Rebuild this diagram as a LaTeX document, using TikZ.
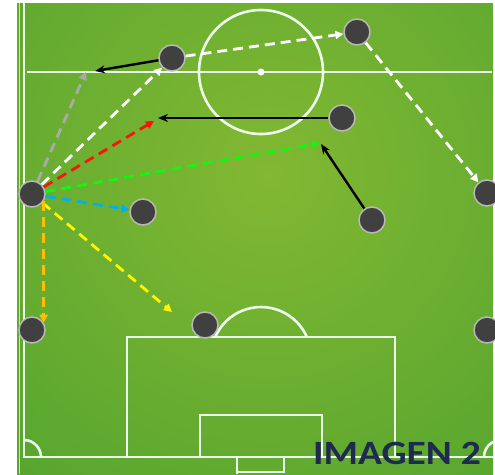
\documentclass[tikz,border=0pt]{standalone}
\usepackage{fontspec}
\newfontfamily\carlito{Carlito}
\usetikzlibrary{arrows.meta}
\definecolor{playerfill}{RGB}{64,64,64}
\definecolor{playeredge}{RGB}{185,185,185}
\definecolor{fieldin}{RGB}{130,184,50}
\definecolor{fieldout}{RGB}{60,154,46}
\definecolor{passgray}{RGB}{170,170,170}
\definecolor{passred}{RGB}{250,20,10}
\definecolor{passgreen}{RGB}{20,245,20}
\definecolor{passcyan}{RGB}{0,176,240}
\definecolor{passyellow}{RGB}{255,245,0}
\definecolor{passorange}{RGB}{255,190,0}
\definecolor{titlenavy}{RGB}{30,42,78}
\begin{document}
\begin{tikzpicture}[x=1pt,y=-1pt,
  fieldline/.style={white!92!green,line width=2.6},
  player/.style={circle,fill=playerfill,draw=playeredge,line width=1.5,minimum size=26,inner sep=0},
  pass/.style={line width=2.8,dash pattern=on 10 off 6,-{Triangle[length=8,width=8]}},
  run/.style={black,line width=2.4,-{Stealth[length=10,width=8]}}]
\useasboundingbox (0,0) rectangle (495,474);
\fill[white] (0,0) rectangle (495,474);
\begin{scope}
  \clip (17,3) rectangle (493,474);
  \shade[inner color=fieldin,outer color=fieldout] (268,175) circle (640);
  % field lines
  \draw[white!60!green,line width=1.5] (19.5,3) -- (19.5,474);
  \draw[fieldline] (24,3) -- (24,457) -- (493,457);
  \draw[fieldline] (27,72) -- (492,72);
  \draw[fieldline] (261,72) circle (62);
  \fill[white] (261,72) circle (3.5);
  \draw[fieldline] (127,457) -- (127,337) -- (395,337) -- (395,457);
  \draw[fieldline] (215.2,337) arc[start angle=-156.4,end angle=-23.6,radius=50];
  \draw[fieldline] (200,457) -- (200,415) -- (322,415) -- (322,457);
  \draw[fieldline] (237,474) -- (237,457) (237,472) -- (284,472) -- (284,457);
  \draw[fieldline] (24,440) arc[start angle=-90,end angle=0,radius=17];
  \draw[fieldline] (484,457) arc[start angle=180,end angle=270,radius=17];
\end{scope}
% players
\node[player] (p1) at (172,58) {};
\node[player] (p2) at (357,32) {};
\node[player] (p3) at (342,118) {};
\node[player] (p4) at (32,194) {};
\node[player] (p5) at (143,212) {};
\node[player] (p6) at (372,220) {};
\node[player] (p7) at (487,193) {};
\node[player] (p8) at (32,330) {};
\node[player] (p9) at (205,325) {};
\node[player] (p10) at (487,330) {};
% target points
\coordinate (gtip) at (86,72);
\coordinate (btip) at (95,71);
\coordinate (rtip) at (154,121);
\coordinate (r2tip) at (158,118);
\coordinate (grtip) at (320,143);
\coordinate (b3tip) at (321,144);
\coordinate (ytip) at (172,312);
% passes
\draw[pass,passgray] (p4) -- (gtip);
\draw[pass,white] (p4) -- (p1);
\draw[pass,white] (p1) -- (p2);
\draw[pass,white] (p2) -- (p7);
\draw[pass,passred] (p4) -- (rtip);
\draw[pass,passgreen] (p4) -- (grtip);
\draw[pass,passcyan] (p4) -- (p5);
\draw[pass,passyellow] (p4) -- (ytip);
\draw[pass,passorange] (p4.-32) -- (p8.32);
% runs
\draw[run] (p1) -- (btip);
\draw[run] (p3) -- (r2tip);
\draw[run] (p6) -- (b3tip);
% title
\node[text=titlenavy,font=\carlito\bfseries\fontsize{34}{34}\selectfont,xscale=1.16] (title) at (397,453.5) {IMAGEN 2};
\end{tikzpicture}
\end{document}
